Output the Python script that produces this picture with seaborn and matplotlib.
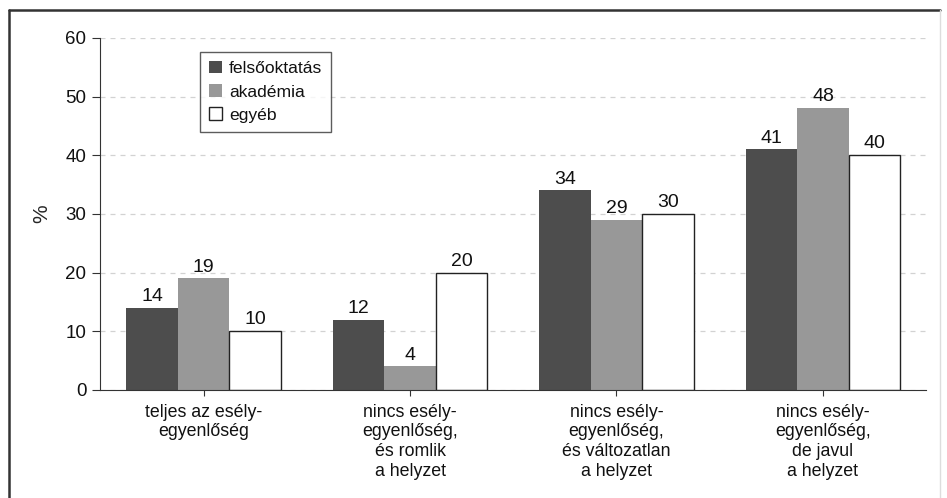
import pandas as pd
import matplotlib.pyplot as plt
import seaborn as sns
from matplotlib.lines import Line2D
from matplotlib.patches import Patch

# Data
categories = ['teljes az esély-\negyenlőség',
              'nincs esély-\negyenlőség,\nés romlik\na helyzet',
              'nincs esély-\negyenlőség,\nés változatlan\na helyzet',
              'nincs esély-\negyenlőség,\nde javul\na helyzet']
groups = ['felsőoktatás', 'akadémia', 'egyéb']
felsooktatas = [14, 12, 34, 41]
akademia = [19, 4, 29, 48]
egyeb = [10, 20, 30, 40]

df = pd.DataFrame({
    'kategoria': categories * 3,
    'csoport': [g for g in groups for _ in categories],
    'ertek': felsooktatas + akademia + egyeb,
})

colors = {'felsőoktatás': '#4d4d4d', 'akadémia': '#989898', 'egyéb': '#ffffff'}

sns.set_style('white')
plt.rcParams['font.family'] = ['Liberation Sans', 'DejaVu Sans']
plt.rcParams['text.color'] = '#111111'

fig = plt.figure(figsize=(9.47, 4.98), dpi=100)
ax = fig.add_axes([0.106, 0.217, 0.872, 0.707])

sns.barplot(data=df, x='kategoria', y='ertek', hue='csoport', palette=colors,
            width=0.75, saturation=1, ax=ax, legend=False)

for bar in ax.patches:
    if bar.get_facecolor()[:3] == (1.0, 1.0, 1.0):
        bar.set_edgecolor('#222222')
        bar.set_linewidth(1.0)
    else:
        bar.set_edgecolor('none')

for cont in ax.containers:
    ax.bar_label(cont, fmt='%d', padding=2, fontsize=14, color='#111111')

ax.set_ylim(0, 60)
ax.set_xlim(-0.5, 3.5)
ax.set_yticks(range(0, 61, 10))
ax.yaxis.grid(True, linestyle=(0, (4, 4)), color='#d2d2d2', linewidth=0.9)
ax.set_axisbelow(True)
for s in ['top', 'right']:
    ax.spines[s].set_visible(False)
ax.spines['left'].set_color('#333333')
ax.spines['bottom'].set_color('#333333')
ax.tick_params(axis='y', left=True, length=6, color='#333333', labelsize=13.5,
               labelcolor='#111111', pad=4)
ax.tick_params(axis='x', bottom=True, length=4, color='#333333', labelsize=12.8,
               labelcolor='#111111', pad=6)
ax.set_xlabel('')
ax.set_ylabel('%', fontsize=15, labelpad=10)

handles = [Patch(facecolor=colors[g], edgecolor='#222222' if g == 'egyéb' else 'none',
                 label=g) for g in groups]
ax.legend(handles=handles, loc='upper left', bbox_to_anchor=(0.11, 0.985),
          frameon=True, fancybox=False, edgecolor='#333333', fontsize=12.6,
          handlelength=0.75, handleheight=0.75, handletextpad=0.4,
          borderpad=0.5, labelspacing=0.45)

# scanned page frame
fig.add_artist(Line2D([0.0095, 0.0095], [0.0, 0.98], color='#333333', linewidth=1.8,
                      transform=fig.transFigure))
fig.add_artist(Line2D([0.0095, 0.993], [0.98, 0.98], color='#333333', linewidth=1.8,
                      transform=fig.transFigure))
fig.add_artist(Line2D([0.993, 0.993], [0.0, 0.98], color='#dddddd', linewidth=1.0,
                      transform=fig.transFigure))

fig.savefig('out.png', dpi=100)
